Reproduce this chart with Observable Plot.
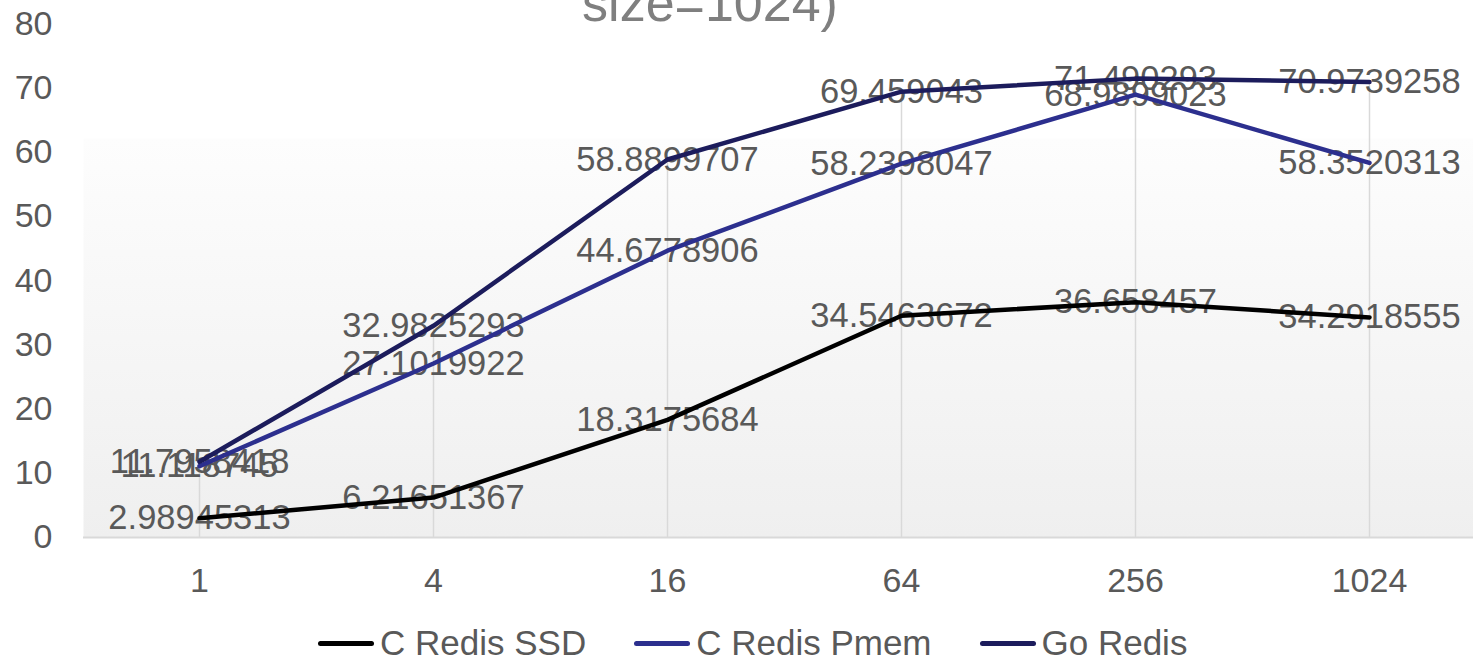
<!DOCTYPE html>
<html><head><meta charset="utf-8">
<script src="https://cdn.jsdelivr.net/npm/d3@7"></script>
<script src="https://cdn.jsdelivr.net/npm/@observablehq/plot@0.6"></script>
<style>
html,body{margin:0;padding:0;background:#fff;}
body{width:1473px;height:661px;overflow:hidden;position:relative;font-family:"Liberation Sans",Arial,sans-serif;}
#chart{position:absolute;left:0;top:0;}
#title{position:absolute;left:0;width:1420px;text-align:center;top:-23px;font-size:52px;line-height:52px;color:#7f7f7f;white-space:nowrap;}
#legend{position:absolute;top:623px;left:318px;height:40px;display:flex;align-items:center;gap:48px;font-size:35px;color:#595959;}
.item{display:flex;align-items:center;}
.sw{width:56px;height:5px;border-radius:3px;margin-right:6px;}
</style>
</head><body>
<div id="chart"></div>
<div id="title">size=1024)</div>
<div id="legend"></div>
<script>
const categories = ["1", "4", "16", "64", "256", "1024"];
const seriesNames = ["C Redis SSD", "C Redis Pmem", "Go Redis"];
const seriesColors = ["#000000", "#2c2f8e", "#1c1c5c"];
const cRedisSSD = [2.98945313, 6.21651367, 18.3175684, 34.5463672, 36.658457, 34.2918555];
const cRedisPmem = [11.118745, 27.1019922, 44.6778906, 58.2398047, 68.9899023, 58.3520313];
const goRedis = [11.7958418, 32.9825293, 58.8899707, 69.459043, 71.490293, 70.9739258];
const yTicks = [0, 10, 20, 30, 40, 50, 60, 70, 80];

const seriesValues = [cRedisSSD, cRedisPmem, goRedis];
const rows = seriesNames.flatMap((s, si) => categories.map((c, i) => ({series: s, cat: c, value: seriesValues[si][i]})));
const drops = categories.map((c, i) => ({cat: c, top: Math.max(...seriesValues.map(v => v[i]))}));

const W = 1473, H = 620;
const defs = () => {
  const d = d3.create("svg:defs");
  const g = d.append("linearGradient").attr("id", "bgGrad").attr("x1", 0).attr("y1", 0).attr("x2", 0).attr("y2", 1);
  g.append("stop").attr("offset", "0%").attr("stop-color", "#fdfdfd");
  g.append("stop").attr("offset", "100%").attr("stop-color", "#efefef");
  return d.node();
};

const chart = Plot.plot({
  width: W, height: H,
  marginLeft: 83, marginRight: 0, marginTop: 138, marginBottom: H - 537,
  style: {fontFamily: "'Liberation Sans', Arial, sans-serif", fontSize: "34px", color: "#595959", background: "transparent", overflow: "visible"},
  x: {type: "point", domain: categories, range: [199, 1369], padding: 0},
  y: {domain: [0, 80], range: [537, 23.5]},
  color: {domain: seriesNames, range: seriesColors},
  marks: [
    defs,
    Plot.frame({fill: "url(#bgGrad)", stroke: "none"}),
    Plot.ruleX(drops, {x: "cat", y1: 0, y2: "top", stroke: "#d9d9d9", strokeWidth: 1.5}),
    Plot.ruleY([0], {stroke: "#d9d9d9", strokeWidth: 2}),
    Plot.text(rows, {x: "cat", y: "value", text: d => String(d.value), fill: "#595959", fontSize: 34.5}),
    Plot.line(rows, {x: "cat", y: "value", z: "series", stroke: "series", strokeWidth: 4.5, strokeLinejoin: "round", strokeLinecap: "round"}),
    Plot.axisY({ticks: yTicks, tickSize: 0, tickPadding: 31, fontSize: 34, fill: "#595959", label: null}),
    Plot.axisX({tickSize: 0, tickPadding: 30, fontSize: 34, fill: "#595959", label: null})
  ]
});
document.getElementById("chart").appendChild(chart);

const legend = document.getElementById("legend");
seriesNames.forEach((s, i) => {
  const it = document.createElement("div"); it.className = "item";
  const sw = document.createElement("div"); sw.className = "sw"; sw.style.background = seriesColors[i];
  const t = document.createElement("span"); t.textContent = s;
  it.appendChild(sw); it.appendChild(t); legend.appendChild(it);
});
</script>
</body></html>
